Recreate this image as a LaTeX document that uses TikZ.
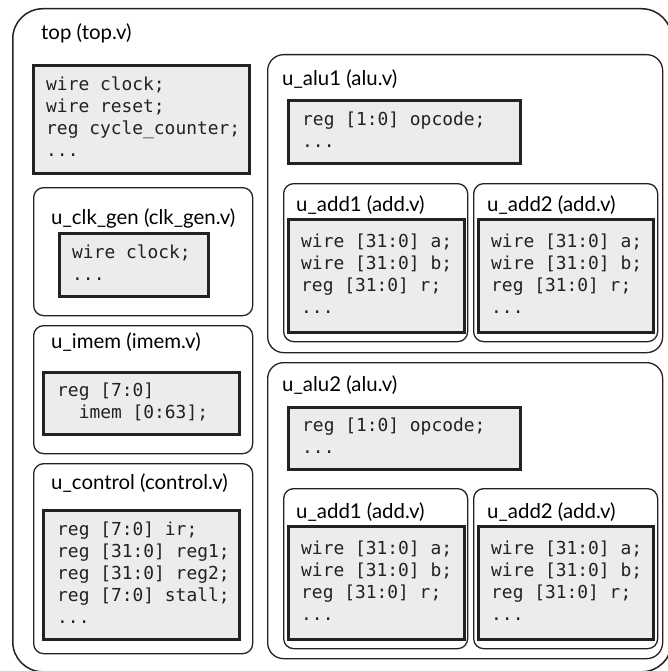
\documentclass[tikz,border=0pt]{standalone}
\usepackage{fontspec}
\setmainfont{Lato}
\newfontfamily\codefont{DejaVu Sans Mono}
\definecolor{linec}{HTML}{222222}
\definecolor{codefill}{HTML}{ECECEC}
\begin{document}
\begin{tikzpicture}[x=1pt,y=-1pt,
  outerbox/.style={draw=linec, line width=1.5pt, rounded corners=30pt, anchor=north west, inner sep=0pt},
  modbox/.style={draw=linec, line width=1.3pt, rounded corners=10pt, anchor=north west, inner sep=0pt},
  alubox/.style={modbox, rounded corners=16pt},
  codebox/.style={draw=linec, line width=2.6pt, fill=codefill, anchor=north west, inner sep=0pt},
  lbl/.style={anchor=west, inner sep=0pt, text=black, font=\fontsize{20.4}{24}\selectfont},
  code/.style={anchor=west, inner sep=0pt, align=left, text=linec, font=\codefont\fontsize{17.9}{22}\selectfont}]
\useasboundingbox (0,0) rectangle (668,671);

% outer module
\node[outerbox, minimum width=659pt, minimum height=663pt] (top) at (12,8) {};
\node[lbl] (topl) at (41,33) {top (top.v)};
\node[codebox, minimum width=216pt, minimum height=108pt] (topd) at (32,64) {};
\node[code] (topt) at ([xshift=14pt]topd.west) {\strut wire clock;\\\strut wire reset;\\\strut reg cycle\_counter;\\\strut ...};

% clk_gen
\node[modbox, minimum width=219pt, minimum height=128pt] (clk) at (33,187) {};
\node[lbl] (clkl) at (51,218) {u\_clk\_gen (clk\_gen.v)};
\node[codebox, minimum width=149pt, minimum height=63pt] (clkd) at (58,232) {};
\node[code] (clkt) at ([xshift=14pt]clkd.west) {\strut wire clock;\\\strut ...};

% imem
\node[modbox, minimum width=219pt, minimum height=128pt] (imem) at (33,325) {};
\node[lbl] (imeml) at (51,342) {u\_imem (imem.v)};
\node[codebox, minimum width=196pt, minimum height=62pt] (imemd) at (42,371) {};
\node[code] (imemt) at ([xshift=15pt]imemd.west) {\strut reg [7:0]\\\strut \ \ imem [0:63];};

% control
\node[modbox, minimum width=219pt, minimum height=190pt] (ctrl) at (33,463) {};
\node[lbl] (ctrll) at (51,483) {u\_control (control.v)};
\node[codebox, minimum width=196pt, minimum height=129pt] (ctrld) at (42,509) {};
\node[code] (ctrlt) at ([xshift=15pt]ctrld.west) {\strut reg [7:0] ir;\\\strut reg [31:0] reg1;\\\strut reg [31:0] reg2;\\\strut reg [7:0] stall;\\\strut ...};

% alu1
\node[alubox, minimum width=395pt, minimum height=298pt] (alua) at (267,54) {};
\node[lbl] (alual) at (282,79) {u\_alu1 (alu.v)};
\node[codebox, minimum width=232pt, minimum height=63pt] (aluad) at (287,99) {};
\node[code] (aluat) at ([xshift=15pt]aluad.west) {\strut reg [1:0] opcode;\\\strut ...};

\node[modbox, minimum width=184pt, minimum height=158pt] (aaa) at (283,183) {};
\node[lbl] (aaal) at (296,205) {u\_add1 (add.v)};
\node[codebox, minimum width=176pt, minimum height=113pt] (aaad) at (287,218) {};
\node[code] (aaat) at ([xshift=14pt]aaad.west) {\strut wire [31:0] a;\\\strut wire [31:0] b;\\\strut reg [31:0] r;\\\strut ...};

\node[modbox, minimum width=184pt, minimum height=158pt] (aab) at (473,183) {};
\node[lbl] (aabl) at (487,205) {u\_add2 (add.v)};
\node[codebox, minimum width=175pt, minimum height=113pt] (aabd) at (477,218) {};
\node[code] (aabt) at ([xshift=14pt]aabd.west) {\strut wire [31:0] a;\\\strut wire [31:0] b;\\\strut reg [31:0] r;\\\strut ...};

% alu2
\node[alubox, minimum width=395pt, minimum height=296pt] (alub) at (267,362) {};
\node[lbl] (alubl) at (282,385) {u\_alu2 (alu.v)};
\node[codebox, minimum width=232pt, minimum height=62pt] (alubd) at (287,406) {};
\node[code] (alubt) at ([xshift=15pt]alubd.west) {\strut reg [1:0] opcode;\\\strut ...};

\node[modbox, minimum width=184pt, minimum height=160pt] (aba) at (283,488) {};
\node[lbl] (abal) at (296,512) {u\_add1 (add.v)};
\node[codebox, minimum width=176pt, minimum height=113pt] (abad) at (287,525) {};
\node[code] (abat) at ([xshift=14pt]abad.west) {\strut wire [31:0] a;\\\strut wire [31:0] b;\\\strut reg [31:0] r;\\\strut ...};

\node[modbox, minimum width=184pt, minimum height=160pt] (abb) at (473,488) {};
\node[lbl] (abbl) at (487,512) {u\_add2 (add.v)};
\node[codebox, minimum width=175pt, minimum height=113pt] (abbd) at (477,525) {};
\node[code] (abbt) at ([xshift=14pt]abbd.west) {\strut wire [31:0] a;\\\strut wire [31:0] b;\\\strut reg [31:0] r;\\\strut ...};
\end{tikzpicture}
\end{document}
